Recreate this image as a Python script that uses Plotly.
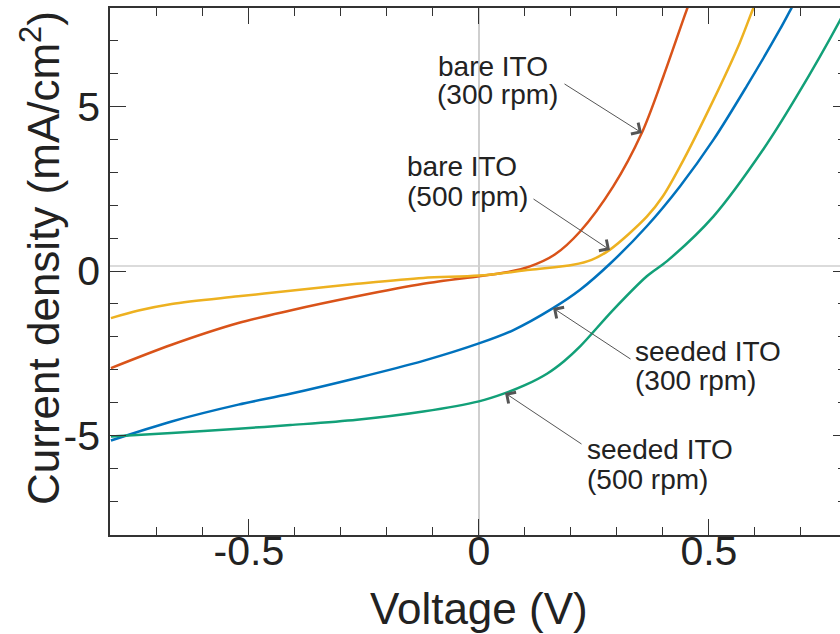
import plotly.graph_objects as go

# ---------------- data ----------------
v_bare300 = [-0.80, -0.668, -0.523, -0.41, -0.265, -0.121, 0.0, 0.06, 0.111, 0.165, 0.22, 0.292, 0.354, 0.401, 0.452, 0.47]
j_bare300 = [-2.95, -2.24, -1.58, -1.20, -0.77, -0.39, -0.16, -0.04, 0.14, 0.50, 1.20, 2.57, 4.19, 5.91, 7.94, 8.6]

v_bare500 = [-0.80, -0.74, -0.668, -0.523, -0.41, -0.265, -0.121, 0.0, 0.111, 0.205, 0.245, 0.285, 0.365, 0.40, 0.437, 0.51, 0.567, 0.597, 0.61]
j_bare500 = [-1.43, -1.20, -1.0, -0.77, -0.6, -0.39, -0.21, -0.14, 0.04, 0.19, 0.34, 0.65, 1.65, 2.27, 3.17, 5.2, 6.93, 8.0, 8.4]

v_seed300 = [-0.80, -0.668, -0.523, -0.41, -0.265, -0.121, 0.0, 0.074, 0.162, 0.22, 0.285, 0.365, 0.437, 0.51, 0.582, 0.654, 0.68, 0.70]
j_seed300 = [-5.15, -4.57, -4.06, -3.73, -3.25, -2.73, -2.20, -1.80, -1.12, -0.57, 0.22, 1.36, 2.57, 3.99, 5.61, 7.33, 8.0, 8.5]

v_seed500 = [-0.80, -0.668, -0.523, -0.41, -0.265, -0.121, 0.0, 0.057, 0.10, 0.148, 0.185, 0.22, 0.292, 0.365, 0.409, 0.51, 0.618, 0.691, 0.786, 0.81]
j_seed500 = [-5.03, -4.92, -4.79, -4.68, -4.52, -4.27, -3.96, -3.71, -3.47, -3.12, -2.74, -2.29, -1.18, -0.16, 0.30, 1.66, 3.69, 5.31, 7.64, 8.3]

series_names = ["bare ITO (300 rpm)", "bare ITO (500 rpm)", "seeded ITO (300 rpm)", "seeded ITO (500 rpm)"]
series_colors = ["#D95319", "#EDB120", "#0072BD", "#12A078"]

x_tickvals = [-0.5, 0, 0.5]
x_ticktext = ["-0.5", "0", "0.5"]
y_tickvals = [-5, 0, 5]
y_ticktext = ["-5", "0", "5"]

# ---------------- layout geometry ----------------
W, H = 840, 634
ML, MR, MT, MB = 110, 0, 8, 99
X0, X1 = -0.802, 0.785
Y0, Y1 = -8.02, 7.99
PW, PH = W - ML - MR, H - MT - MB


def px_x(px):
    return X0 + (px - ML) / PW * (X1 - X0)


def px_y(py):
    return Y1 - (py - MT) / PH * (Y1 - Y0)


def paper_x(px):
    return (px - ML) / PW


def paper_y(py):
    return (H - MB - py) / PH


FONT = "Liberation Sans, Arial, sans-serif"
TXT = "#222222"
AX = "#333333"

fig = go.Figure()
for v, j, name, col in zip([v_bare300, v_bare500, v_seed300, v_seed500],
                           [j_bare300, j_bare500, j_seed300, j_seed500],
                           series_names, series_colors):
    fig.add_trace(go.Scatter(x=v, y=j, mode="lines", name=name,
                             line=dict(color=col, width=2.5, shape="spline", smoothing=0.9),
                             showlegend=False))

# empty trace to make the right-hand tick axis render
fig.add_trace(go.Scatter(x=[None], y=[None], yaxis="y2", showlegend=False, hoverinfo="skip"))

fig.update_layout(
    width=W, height=H,
    margin=dict(l=ML, r=MR, t=MT, b=MB, pad=0),
    paper_bgcolor="white", plot_bgcolor="white",
    font=dict(family=FONT, color=TXT),
    xaxis=dict(range=[X0, X1], showgrid=False, zeroline=True, zerolinecolor="#cfcfcf", zerolinewidth=1.5,
               tickvals=x_tickvals, ticktext=x_ticktext, ticks="inside", ticklen=16, tickwidth=1.3,
               tickcolor=AX, showline=True, linecolor=AX, linewidth=1.5, mirror="ticks",
               tickfont=dict(size=41, family=FONT, color=TXT), ticklabelstandoff=-21,
               minor=dict(dtick=0.1, tick0=0, ticks="inside", ticklen=8, tickwidth=1.2, tickcolor=AX)),
    yaxis=dict(range=[Y0, Y1], showgrid=False, zeroline=False,
               tickvals=y_tickvals, ticktext=y_ticktext, ticks="inside", ticklen=16, tickwidth=1.3,
               tickcolor=AX, showline=True, linecolor=AX, linewidth=1.5, mirror=False,
               tickfont=dict(size=41, family=FONT, color=TXT), ticklabelstandoff=0,
               minor=dict(dtick=1, tick0=0, ticks="inside", ticklen=8, tickwidth=1.2, tickcolor=AX)),
    yaxis2=dict(range=[Y0, Y1], overlaying="y", side="right", showgrid=False, zeroline=False,
                showline=False, showticklabels=False, tickvals=y_tickvals, ticks="inside", ticklen=7,
                tickwidth=1.3, tickcolor=AX,
                minor=dict(dtick=1, tick0=0, ticks="inside", ticklen=2, tickwidth=1.2, tickcolor=AX)),
)

# light grey horizontal reference line (slightly above the 0 tick, as in the source)
fig.add_shape(type="line", xref="paper", x0=0, x1=1, yref="y", y0=0.15, y1=0.15,
              line=dict(color="#cfcfcf", width=1.5), layer="below")

# axis titles
fig.add_annotation(text="Voltage (V)", xref="paper", yref="paper", x=paper_x(479), y=paper_y(608),
                   xanchor="center", yanchor="middle", showarrow=False,
                   font=dict(size=44, family=FONT, color=TXT))
fig.add_annotation(text="Current density (mA/cm<sup>2</sup>)", xref="paper", yref="paper",
                   x=paper_x(40), y=paper_y(258), textangle=-90,
                   xanchor="center", yanchor="middle", showarrow=False,
                   font=dict(size=44, family=FONT, color=TXT))

# curve labels (one annotation per line for tight line spacing)
labels = [
    ("bare ITO", 436, 66), ("(300 rpm)", 435, 94),
    ("bare ITO", 405, 166), ("(500 rpm)", 405, 196),
    ("seeded ITO", 633, 351), ("(300 rpm)", 633, 380),
    ("seeded ITO", 585, 449), ("(500 rpm)", 585, 479),
]
for txt, lx, ly in labels:
    fig.add_annotation(text=txt, xref="x", yref="y", x=px_x(lx), y=px_y(ly),
                       xanchor="left", yanchor="middle", showarrow=False,
                       font=dict(size=28, family=FONT, color=TXT))

# pointer arrows: (tail px, head px)
arrows = [((563, 83), (642, 133)), ((532, 198), (610, 250)),
          ((632, 360), (553, 308)), ((583, 445), (505, 393))]
for (tx, ty), (hx, hy) in arrows:
    fig.add_annotation(text="", xref="x", yref="y", x=px_x(hx), y=px_y(hy),
                       ax=tx - hx, ay=ty - hy, axref="pixel", ayref="pixel",
                       showarrow=True, arrowhead=4, arrowsize=2.6, arrowwidth=1,
                       arrowcolor="#555555", standoff=0, startstandoff=0)

fig.write_html("out.html")
